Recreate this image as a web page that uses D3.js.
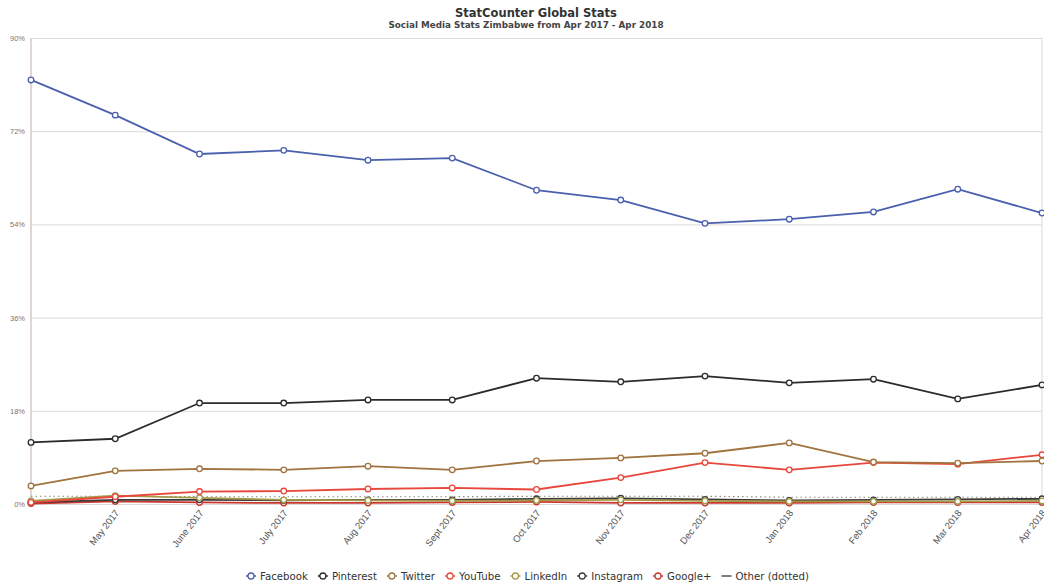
<!DOCTYPE html>
<html><head><meta charset="utf-8">
<script src="https://cdn.jsdelivr.net/npm/d3@7"></script>
<style>body{margin:0;background:#fff;font-family:"DejaVu Sans",sans-serif;}</style>
</head><body><svg id="c" width="1044" height="588"></svg>
<script>
const months = ["Apr 2017","May 2017","June 2017","July 2017","Aug 2017","Sept 2017","Oct 2017","Nov 2017","Dec 2017","Jan 2018","Feb 2018","Mar 2018","Apr 2018"];
const yTicks = [0,18,36,54,72,90];
const facebook  = [81.9,75.1,67.6,68.3,66.4,66.8,60.6,58.7,54.2,55.0,56.4,60.8,56.2];
const pinterest = [11.9,12.6,19.5,19.5,20.1,20.1,24.3,23.6,24.7,23.4,24.1,20.3,23.0];
const twitter   = [3.5,6.4,6.8,6.6,7.3,6.6,8.3,8.9,9.8,11.8,8.1,7.9,8.3];
const youtube   = [0.3,1.4,2.4,2.5,2.9,3.1,2.8,5.1,8.0,6.6,8.0,7.7,9.5];
const linkedin  = [0.6,1.6,1.2,0.8,0.7,0.6,0.7,0.8,0.6,0.5,0.5,0.5,0.6];
const instagram = [0.3,0.8,0.8,0.7,0.8,0.8,1.0,1.1,0.9,0.7,0.8,0.9,1.0];
const googleplus= [0.1,0.5,0.3,0.2,0.2,0.3,0.4,0.2,0.2,0.2,0.3,0.3,0.3];
const other     = [1.5,1.5,1.4,1.4,1.4,1.4,1.5,1.5,1.5,1.3,1.3,1.3,1.3];
const seriesNames = ["Facebook","Pinterest","Twitter","YouTube","LinkedIn","Instagram","Google+","Other (dotted)"];

const series = [
  {name:seriesNames[0], data:facebook, color:"#4a5fae"},
  {name:seriesNames[1], data:pinterest, color:"#2b2b2b"},
  {name:seriesNames[2], data:twitter, color:"#a0733f"},
  {name:seriesNames[3], data:youtube, color:"#e8473c"},
  {name:seriesNames[4], data:linkedin, color:"#a39a4a"},
  {name:seriesNames[5], data:instagram, color:"#3a3a3a"},
  {name:seriesNames[6], data:googleplus, color:"#c8352c"},
  {name:seriesNames[7], data:other, color:"#8a8a7a", dotted:true}
];

const svg = d3.select("#c");
const L=31, R=1042, T=38, B=504;
const x = d3.scalePoint().domain(months).range([L,R]);
const y = d3.scaleLinear().domain([0,90]).range([B,T]);

// title
svg.append("text").attr("x",536).attr("y",16.5).attr("text-anchor","middle")
  .attr("font-size",11.5).attr("font-weight","bold").attr("fill","#333").text("StatCounter Global Stats");
svg.append("text").attr("x",526).attr("y",28).attr("text-anchor","middle")
  .attr("font-size",8.8).attr("font-weight","bold").attr("fill","#444").text("Social Media Stats Zimbabwe from Apr 2017 - Apr 2018");

// grid
const yAxis = d3.axisLeft(y).tickValues(yTicks).tickFormat(d=>d+"%").tickSize(-(R-L)).tickPadding(6);
const gy = svg.append("g").attr("transform",`translate(${L},0)`).call(yAxis);
gy.select(".domain").remove();
gy.selectAll(".tick line").attr("stroke","#e0d8d8").attr("stroke-width",1);
gy.selectAll(".tick text").attr("font-size",7.5).attr("fill","#777");
svg.append("line").attr("x1",L).attr("x2",L).attr("y1",T).attr("y2",B).attr("stroke","#d6c8c8").attr("stroke-width",1.5);
svg.append("line").attr("x1",R).attr("x2",R).attr("y1",T).attr("y2",B).attr("stroke","#e0d8d8");

// x axis
const xAxis = d3.axisBottom(x).tickSize(0).tickPadding(0);
const gx = svg.append("g").attr("transform",`translate(0,${B})`).call(xAxis);
gx.select(".domain").remove();
gx.selectAll(".tick text").filter((d,i)=>i===0).remove();
gx.selectAll(".tick text").attr("font-size",9.5).attr("fill","#555")
  .attr("text-anchor","end").attr("dy",0).attr("y",0)
  .attr("transform","translate(4,9) rotate(-52)");

// lines
const line = d3.line().x((d,i)=>x(months[i])).y(d=>y(d));
const draw = series.slice().reverse();
draw.forEach(s=>{
  if(s.dotted){
    svg.append("path").datum(s.data).attr("d",line).attr("fill","none")
      .attr("stroke",s.color).attr("stroke-width",1.2).attr("stroke-dasharray","1.5,3");
  }
});
draw.filter(s=>!s.dotted).forEach(s=>{
  svg.append("path").datum(s.data).attr("d",line).attr("fill","none")
    .attr("stroke",s.color).attr("stroke-width",1.8);
  svg.append("g").selectAll("circle").data(s.data).join("circle")
    .attr("cx",(d,i)=>x(months[i])).attr("cy",d=>y(d)).attr("r",2.8)
    .attr("fill","#fff").attr("stroke",s.color).attr("stroke-width",1.3);
});

// legend
const lg = svg.append("g").attr("transform","translate(0,576)");
let lx = 251;
series.forEach(s=>{
  const g = lg.append("g").attr("transform",`translate(${lx},0)`);
  if(s.dotted){
    g.append("line").attr("x1",-5).attr("x2",5).attr("y1",0).attr("y2",0).attr("stroke","#555").attr("stroke-width",1.5);
  } else {
    g.append("line").attr("x1",-5).attr("x2",5).attr("y1",0).attr("y2",0).attr("stroke",s.color).attr("stroke-width",1.5);
    g.append("circle").attr("r",3).attr("fill","#fff").attr("stroke",s.color).attr("stroke-width",1.3);
  }
  const t = g.append("text").attr("x",9).attr("y",3.5).attr("font-size",10.2).attr("fill","#333").text(s.name);
  lx += 9 + t.node().getComputedTextLength() + 15;
});
</script></body></html>
